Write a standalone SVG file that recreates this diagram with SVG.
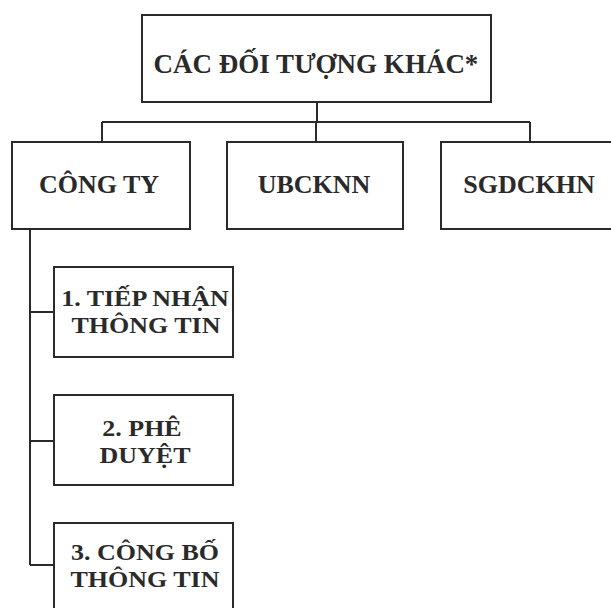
<svg xmlns="http://www.w3.org/2000/svg" width="611" height="608" viewBox="0 0 611 608">
<style>
.box{fill:none;stroke:#2a2a2a;stroke-width:2}
.ln{fill:none;stroke:#2a2a2a;stroke-width:2}
text{font-family:"Liberation Serif","Times New Roman",serif;font-weight:bold;fill:#2a2a2a;text-anchor:middle}
.t1{font-size:27px}
.t2{font-size:26px}
.t3{font-size:23px}
</style>
<rect width="611" height="608" fill="#fff"/>
<g id="connectors">
<path class="ln" d="M317 102V122M102 122H530M102 122V142M316 122V142M530 122V142"/>
<path class="ln" d="M30 229V565M30 312H54M30 441H54M30 565H54"/>
</g>
<g id="n-top"><rect class="box" x="142" y="15" width="349" height="87"/><text class="t1" x="316" y="73">CÁC ĐỐI TƯỢNG KHÁC*</text></g>
<g id="n-congty"><rect class="box" x="12" y="142" width="178" height="87"/><text class="t2" x="99" y="193">CÔNG TY</text></g>
<g id="n-ubcknn"><rect class="box" x="227" y="142" width="176" height="87"/><text class="t2" x="314" y="193">UBCKNN</text></g>
<g id="n-sgdckhn"><rect class="box" x="441" y="142" width="172" height="87"/><text class="t2" x="529" y="193">SGDCKHN</text></g>
<g id="n-step1"><rect class="box" x="54" y="267" width="179" height="90"/><text class="t3" transform="translate(145 306) scale(1.13 1)">1. TIẾP NHẬN</text><text class="t3" transform="translate(146 333) scale(1.13 1)">THÔNG TIN</text></g>
<g id="n-step2"><rect class="box" x="54" y="395" width="179" height="90"/><text class="t3" transform="translate(142 436) scale(1.13 1)">2. PHÊ</text><text class="t3" transform="translate(145 463) scale(1.13 1)">DUYỆT</text></g>
<g id="n-step3"><rect class="box" x="54" y="523" width="179" height="95"/><text class="t3" transform="translate(145 560) scale(1.13 1)">3. CÔNG BỐ</text><text class="t3" transform="translate(145 587) scale(1.13 1)">THÔNG TIN</text></g>
</svg>
